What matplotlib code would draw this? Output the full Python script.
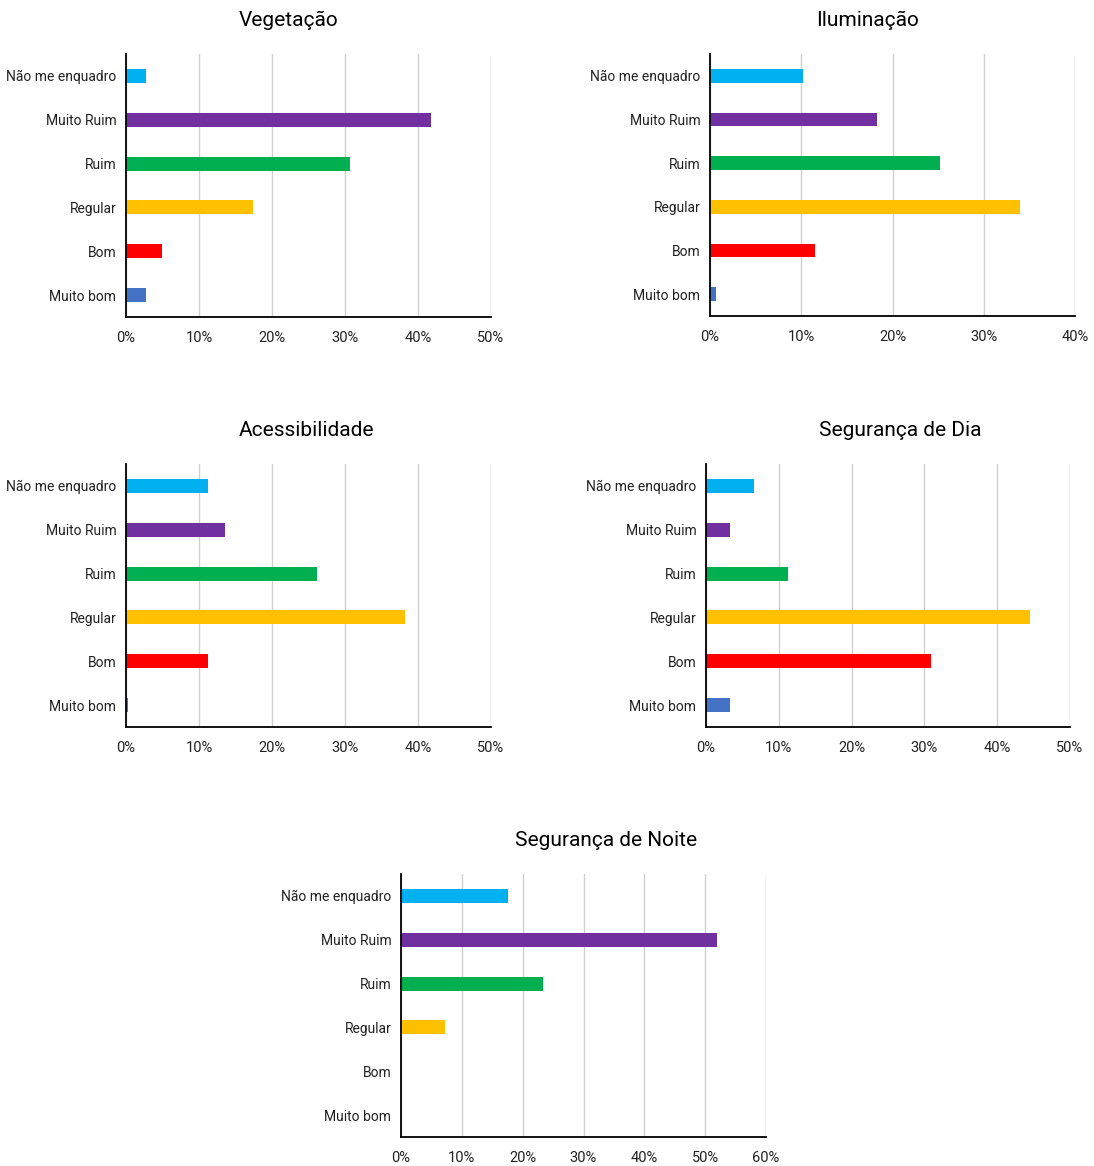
import matplotlib
matplotlib.use("Agg")
import matplotlib.pyplot as plt
from matplotlib.ticker import PercentFormatter

plt.rcParams['font.family'] = ['Liberation Sans Narrow', 'Roboto', 'DejaVu Sans']

categorias = ["Não me enquadro", "Muito Ruim", "Ruim", "Regular", "Bom", "Muito bom"]
cores = ["#00B0F0", "#7030A0", "#00B050", "#FFC000", "#FF0000", "#4472C4"]

vegetacao = [2.7, 41.8, 30.7, 17.4, 4.9, 2.7]
iluminacao = [10.2, 18.3, 25.2, 34.0, 11.5, 0.7]
acessibilidade = [11.2, 13.6, 26.2, 38.2, 11.2, 0.3]
seg_dia = [6.6, 3.3, 11.3, 44.5, 30.9, 3.3]
seg_noite = [17.6, 52.0, 23.4, 7.2, 0.0, 0.0]

W, H = 1094, 1166
fig = plt.figure(figsize=(W / 100, H / 100), dpi=100)

# (titulo, valores, xmax, caixa em px: x0, x1, ytop, ybottom, x do titulo, y do titulo)
paineis = [
    ("Vegetação", vegetacao, 50, (126, 491, 54, 317), 289, 20),
    ("Iluminação", iluminacao, 40, (710, 1075, 54, 316), 868, 20),
    ("Acessibilidade", acessibilidade, 50, (126, 491, 464, 727), 306, 430),
    ("Segurança de Dia", seg_dia, 50, (706, 1070, 464, 727), 900, 430),
    ("Segurança de Noite", seg_noite, 60, (401, 766, 874, 1137), 606, 840),
]

for titulo, vals, xmax, (x0, x1, yt, yb), tx, ty in paineis:
    ax = fig.add_axes([x0 / W, 1 - yb / H, (x1 - x0) / W, (yb - yt) / H])
    y = list(range(len(categorias)))
    ax.barh(y, vals, height=0.32, color=cores, zorder=3)
    ax.set_yticks(y)
    ax.set_yticklabels(categorias, fontsize=10, color="#222222")
    ax.set_ylim(len(categorias) - 0.5, -0.5)
    ax.set_xlim(0, xmax)
    ax.set_xticks(range(0, xmax + 1, 10))
    ax.xaxis.set_major_formatter(PercentFormatter(decimals=0))
    ax.tick_params(axis="x", labelsize=10.5, colors="#222222", length=0, pad=10)
    ax.tick_params(axis="y", length=0, pad=7)
    ax.grid(axis="x", color="#d0d0d0", lw=1, zorder=0)
    for s in ("top", "right"):
        ax.spines[s].set_visible(False)
    for s in ("left", "bottom"):
        ax.spines[s].set_color("black")
        ax.spines[s].set_linewidth(1.3)
        ax.spines[s].set_zorder(4)
    fig.text(tx / W, 1 - ty / H, titulo, ha="center", va="center", fontsize=15, color="black")

fig.savefig("out.png", dpi=100, facecolor="white")
